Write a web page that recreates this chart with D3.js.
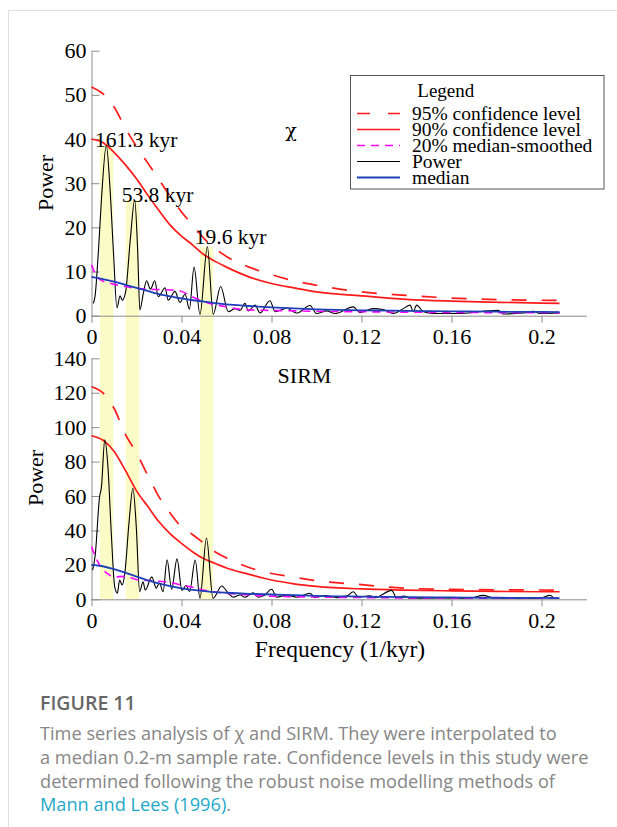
<!DOCTYPE html>
<html><head><meta charset="utf-8">
<script src="https://cdn.jsdelivr.net/npm/d3@7"></script>
<style>body{margin:0;background:#fff}</style>
</head><body><svg id="c" width="617" height="827"></svg>
<script>
// ---------- DATA ----------
const smoothFreq = [0,0.005,0.01,0.015,0.02,0.025,0.03,0.035,0.04,0.045,0.05,0.055,0.06,0.07,0.08,0.09,0.1,0.12,0.14,0.16,0.18,0.2,0.208];
// chi panel
const chiConf95 = [51.8,50.3,47.3,42.5,38.3,34.6,30.8,27,23.5,20.5,17.5,15.2,13.4,11,9.3,7.9,6.9,5.4,4.6,4.0,3.65,3.5,3.45];
const chiConf90 = [40,39.2,37,34.2,31,27.3,23.8,20.5,18,16,13.8,12.3,11,8.8,7.3,6.3,5.4,4.5,3.7,3.3,3.05,2.85,2.8];
const chiMedian = [8.8,8.3,7.7,7.0,6.3,5.6,4.9,4.4,3.9,3.5,3.2,2.85,2.55,2.2,1.9,1.65,1.45,1.2,1.1,1.0,0.9,0.85,0.8];
const chiSmoothFreq = [0,0.002,0.004,0.0073,0.015,0.025,0.032,0.0385,0.046,0.05,0.06,0.07,0.08,0.1,0.12,0.14,0.16,0.18,0.2,0.208];
const chiSmoothed = [11.5,9.2,8.1,7.5,6.6,6.0,5.9,5.7,4.0,3.2,2.0,1.3,1.2,1.0,0.9,0.8,0.75,0.7,0.7,0.7];
const chiPowerFreq = [0.0008,0.0016,0.0030,0.0045,0.0066,0.0082,0.0098,0.0113,0.0127,0.0137,0.0152,0.0172,0.0192,0.0205,0.0215,0.0230,0.0245,0.0262,0.0281,0.0297,0.0327,0.0341,0.0371,0.0393,0.0416,0.0435,0.0456,0.0482,0.0515,0.0541,0.0574,0.0608,0.0638,0.0660,0.0682,0.0697,0.0727,0.0749,0.0793,0.0816,0.0868,0.0912,0.0971,0.1000,0.1045,0.1082,0.1164,0.1193,0.1252,0.1297,0.1341,0.1386,0.1416,0.1430,0.1445,0.1475,0.1520,0.1623,0.1808,0.1830,0.1919,0.1964,0.1993,0.2082];
const chiPower = [2.8,4.5,14,27,38.6,29,14,1.8,4.5,3.5,5.5,17,26.2,15,1.3,5,7.9,6.0,7.9,4.3,6.3,3.5,5.5,3.0,4.9,1.5,11,0.3,15.6,0.3,6.6,0.9,1.6,1.2,2.8,1.1,2.4,0.6,3.4,0.9,1.7,0.6,2.3,0.5,1.1,0.5,2.0,0.7,1.6,1.4,0.5,1.6,2.4,0.9,2.4,0.9,0.5,0.5,1.2,0.4,0.6,1.0,0.5,0.6];
// SIRM panel
const sirmConf95 = [123.5,120,111,96,85,72,59.5,50,42,37.5,32.5,27.5,24,18.5,15,12.9,10.8,8.5,6.4,5.8,5.5,5.4,5.3];
const sirmConf90 = [95,92.5,86,75,63,54,45,38,32.5,27.5,23.5,20.8,18.2,14.5,11.2,9.0,7.5,6.0,5.3,4.9,4.6,4.4,4.4];
const sirmMedian = [20,19.2,17.5,15.5,13.2,11,9.2,7.6,6.4,5.5,4.8,4.2,3.8,3.2,2.8,2.4,2.0,1.6,1.3,1.1,0.9,0.8,0.7];
const sirmSmoothFreq = [0,0.002,0.004,0.007,0.01,0.015,0.02,0.03,0.035,0.04,0.045,0.05,0.06,0.07,0.08,0.1,0.12,0.14,0.16,0.2,0.208];
const sirmSmoothed = [30.6,24,19,15,13,13.3,11.5,10.5,9.8,8.3,7,5.3,3.5,2.5,1.8,1.3,1.0,0.8,0.7,0.6,0.6];
const sirmPowerFreq = [0.0005,0.0016,0.0036,0.0044,0.0059,0.0073,0.0088,0.0103,0.0115,0.0125,0.0136,0.0148,0.0167,0.0184,0.0199,0.0214,0.0229,0.0239,0.0268,0.0288,0.0302,0.0318,0.0336,0.0356,0.0380,0.0402,0.0420,0.0436,0.0461,0.0482,0.0511,0.0540,0.0579,0.0608,0.0630,0.0660,0.0682,0.0719,0.0740,0.0767,0.0801,0.0823,0.0868,0.0913,0.0971,0.0993,0.1038,0.1091,0.1136,0.1164,0.1186,0.1238,0.1260,0.1334,0.1356,0.1389,0.1416,0.1549,0.1682,0.1740,0.1793,0.1904,0.1993,0.2038,0.2060,0.2078];
const sirmPower = [17,25,59.6,65,92.6,77,38.3,7.3,3.5,11.2,8.3,15.1,45,64.5,42.2,4.4,10.2,5.4,13,6.5,9.5,4.4,23,5.8,23.5,5.2,8,4.5,22.8,0.6,35.6,0.6,7.7,3.5,1.2,2.5,1.2,3.8,1.2,2.2,5.8,1.2,2.5,1.2,3.5,1.0,2.2,1.0,2.0,4.4,1.2,2.1,1.0,5.2,1.0,1.9,0.6,0.8,0.6,2.3,0.6,0.6,0.7,2.3,0.6,0.6];
// highlighted periodicities
const bandStart = [0.0038,0.0152,0.0482];
const bandEnd = [0.0097,0.0212,0.0541];
const bandTop = [38.6,26.2,15.6];
const peakLabels = ["161.3 kyr","53.8 kyr","19.6 kyr"];
const peakLabelFreq = [0.0016,0.0134,0.0459];
const peakLabelValue = [38.2,25.8,16.3];
const xTicks = [0,0.04,0.08,0.12,0.16,0.2];
const chiTicks = [0,10,20,30,40,50,60];
const sirmTicks = [0,20,40,60,80,100,120,140];
const legendLabels = ["95% confidence level","90% confidence level","20% median-smoothed","Power","median"];

// ---------- DRAW ----------
const svg = d3.select("#c");
const serif = "'Liberation Serif','Times New Roman',serif";
const x = d3.scaleLinear().domain([0,0.22]).range([91.5,586.5]);
const yTop = d3.scaleLinear().domain([0,60]).range([315.7,50.7]);
const yBot = d3.scaleLinear().domain([0,140]).range([599.3,358.3]);

// frame lines
svg.append("line").attr("x1",8.5).attr("x2",8.5).attr("y1",10).attr("y2",827).attr("stroke","#e0e0e0");
svg.append("line").attr("x1",8).attr("x2",617).attr("y1",10.5).attr("y2",10.5).attr("stroke","#e0e0e0");

// bands
svg.append("g").selectAll("rect").data(bandStart).join("rect")
  .attr("x",(d)=>x(d)).attr("width",(d,i)=>x(bandEnd[i])-x(d))
  .attr("y",(d,i)=>yTop(bandTop[i])).attr("height",(d,i)=>yBot(0)-yTop(bandTop[i]))
  .attr("fill","#fbfbc6");

const fmtX = d => d===0 ? "0" : String(+d.toFixed(2));
function styleAxis(g){
  g.selectAll("path,line").attr("stroke","#8c8c8c");
  g.selectAll("text").attr("fill","#000").style("font-family",serif).style("font-size","22px");
}
function panel(y, yt, sets){
  svg.append("g").attr("transform",`translate(0,${y(0)})`)
    .call(d3.axisBottom(x).tickValues(xTicks).tickFormat(fmtX).tickSizeInner(7).tickSizeOuter(0).tickPadding(6))
    .call(styleAxis);
  svg.append("g").attr("transform",`translate(${x(0)},0)`)
    .call(d3.axisLeft(y).tickValues(yt).tickFormat(d3.format("d")).tickSizeInner(-8).tickSizeOuter(0).tickPadding(5))
    .call(styleAxis);
  const line = (fs, vs, curve) => d3.line().x((d,i)=>x(fs[i])).y(d=>y(d)).curve(curve)(vs);
  svg.append("path").attr("d",line(smoothFreq,sets.c95,d3.curveMonotoneX)).attr("fill","none")
    .attr("stroke","#ff1a1a").attr("stroke-width",1.7).attr("stroke-dasharray","15,15");
  svg.append("path").attr("d",line(smoothFreq,sets.c90,d3.curveMonotoneX)).attr("fill","none")
    .attr("stroke","#ff1a1a").attr("stroke-width",1.7);
  svg.append("path").attr("d",line(sets.pf,sets.p,d3.curveMonotoneX)).attr("fill","none")
    .attr("stroke","#000").attr("stroke-width",1.1);
  svg.append("path").attr("d",line(sets.sf,sets.s,d3.curveMonotoneX)).attr("fill","none")
    .attr("stroke","#ff00ff").attr("stroke-width",1.6).attr("stroke-dasharray","8,6");
  svg.append("path").attr("d",line(smoothFreq,sets.m,d3.curveMonotoneX)).attr("fill","none")
    .attr("stroke","#1f3fb8").attr("stroke-width",1.8);
}
panel(yTop, chiTicks, {c95:chiConf95,c90:chiConf90,m:chiMedian,sf:chiSmoothFreq,s:chiSmoothed,pf:chiPowerFreq,p:chiPower});
panel(yBot, sirmTicks, {c95:sirmConf95,c90:sirmConf90,m:sirmMedian,sf:sirmSmoothFreq,s:sirmSmoothed,pf:sirmPowerFreq,p:sirmPower});

// peak labels
svg.append("g").selectAll("text").data(peakLabels).join("text")
  .attr("x",(d,i)=>x(peakLabelFreq[i])).attr("y",(d,i)=>yTop(peakLabelValue[i]))
  .style("font-family",serif).style("font-size","21.5px").text(d=>d);

// panel titles
svg.append("text").attr("x",291).attr("y",137).attr("text-anchor","middle")
  .style("font-family","'DejaVu Serif',serif").style("font-size","19px").text("χ");
svg.append("text").attr("x",304.5).attr("y",383).attr("text-anchor","middle")
  .style("font-family",serif).style("font-size","22px").text("SIRM");
// axis titles
svg.append("text").attr("transform","translate(53,183) rotate(-90)").attr("text-anchor","middle")
  .style("font-family",serif).style("font-size","22px").text("Power");
svg.append("text").attr("transform","translate(43,478) rotate(-90)").attr("text-anchor","middle")
  .style("font-family",serif).style("font-size","22px").text("Power");
svg.append("text").attr("x",340).attr("y",657).attr("text-anchor","middle")
  .style("font-family",serif).style("font-size","23.5px").text("Frequency (1/kyr)");

// legend
const lg = svg.append("g");
lg.append("rect").attr("x",350.5).attr("y",75.5).attr("width",253.5).attr("height",113.5)
  .attr("fill","#fff").attr("stroke","#555").attr("stroke-width",1);
lg.append("text").attr("x",417.3).attr("y",97.3).style("font-family",serif).style("font-size","19px").text("Legend");
const legStyles = [
  {c:"#ff1a1a",w:1.7,da:"13,18"},{c:"#ff1a1a",w:1.7,da:null},{c:"#ff00ff",w:1.6,da:"8,6"},
  {c:"#000",w:1,da:null},{c:"#1f3fb8",w:1.8,da:null}];
legendLabels.forEach((t,i)=>{
  const by = 119.5 + i*16;
  lg.append("line").attr("x1",357).attr("x2",400).attr("y1",by-6).attr("y2",by-6)
    .attr("stroke",legStyles[i].c).attr("stroke-width",legStyles[i].w).attr("stroke-dasharray",legStyles[i].da);
  lg.append("text").attr("x",412).attr("y",by).style("font-family",serif).style("font-size","19.5px").text(t);
});

// caption
const sans = "'Open Sans','Noto Sans',sans-serif";
svg.append("text").attr("x",40).attr("y",710).style("font-family",sans).style("font-size","19.5px")
  .style("font-weight","600").attr("fill","#666").text("FIGURE 11");
const capLines = ["Time series analysis of χ and SIRM. They were interpolated to",
  "a median 0.2-m sample rate. Confidence levels in this study were",
  "determined following the robust noise modelling methods of"];
capLines.forEach((t,i)=>{
  svg.append("text").attr("x",40).attr("y",740+i*23.8).style("font-family",sans).style("font-size","18.2px")
    .attr("fill","#868686").text(t);
});
const last = svg.append("text").attr("x",40).attr("y",811.4).style("font-family",sans).style("font-size","18.2px");
last.append("tspan").attr("fill","#22a9c9").text("Mann and Lees (1996)");
last.append("tspan").attr("fill","#868686").text(".");
</script></body></html>
